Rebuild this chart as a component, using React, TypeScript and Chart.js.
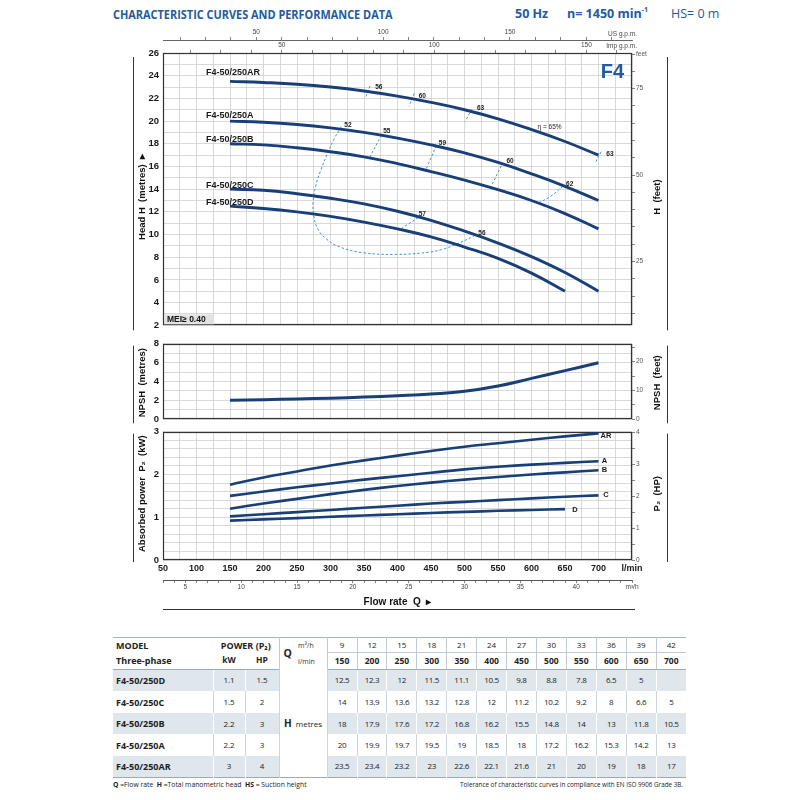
import React, { useEffect, useRef } from "react";
import { Chart, registerables } from "chart.js";

Chart.register(...registerables);

// ---------------- data ----------------
const flowLmin = [150, 200, 250, 300, 350, 400, 450, 500, 550, 600, 650, 700];
const flowM3h = [9, 12, 15, 18, 21, 24, 27, 30, 33, 36, 39, 42];
const models = ["F4-50/250D", "F4-50/250C", "F4-50/250B", "F4-50/250A", "F4-50/250AR"];
const powerKw = [1.1, 1.5, 2.2, 2.2, 3];
const powerHp = [1.5, 2, 3, 3, 4];

// tabulated head values (table)
const headD = [12.5, 12.3, 12, 11.5, 11.1, 10.5, 9.8, 8.8, 7.8, 6.5, 5];
const headC = [14, 13.9, 13.6, 13.2, 12.8, 12, 11.2, 10.2, 9.2, 8, 6.6, 5];
const headB = [18, 17.9, 17.6, 17.2, 16.8, 16.2, 15.5, 14.8, 14, 13, 11.8, 10.5];
const headA = [20, 19.9, 19.7, 19.5, 19, 18.5, 18, 17.2, 16.2, 15.3, 14.2, 13];
const headAR = [23.5, 23.4, 23.2, 23, 22.6, 22.1, 21.6, 21, 20, 19, 18, 17];

// head curves
const curveD = [12.5, 12.3, 12.0, 11.6, 11.1, 10.5, 9.8, 8.9, 7.9, 6.6, 5.0];
const curveC = [14, 13.9, 13.6, 13.2, 12.7, 12.05, 11.25, 10.3, 9.25, 8.05, 6.65, 5.0];
const curveB = [18, 17.9, 17.65, 17.3, 16.85, 16.25, 15.55, 14.8, 13.95, 13.0, 11.85, 10.5];
const curveA = [20, 19.9, 19.7, 19.4, 19.0, 18.5, 17.9, 17.2, 16.35, 15.35, 14.25, 13.0];
const curveAR = [23.5, 23.4, 23.25, 23.0, 22.65, 22.2, 21.65, 21.0, 20.2, 19.25, 18.2, 17.0];

const npshM = [2.02, 2.08, 2.15, 2.24, 2.35, 2.5, 2.68, 2.96, 3.52, 4.33, 5.15, 5.98];

const p2AR = [1.76, 1.93, 2.07, 2.21, 2.33, 2.44, 2.55, 2.65, 2.73, 2.81, 2.89, 2.96];
const p2A = [1.5, 1.6, 1.7, 1.79, 1.88, 1.96, 2.04, 2.12, 2.18, 2.23, 2.27, 2.31];
const p2B = [1.2, 1.32, 1.43, 1.54, 1.64, 1.73, 1.81, 1.88, 1.94, 2.0, 2.05, 2.1];
const p2C = [1.02, 1.07, 1.12, 1.17, 1.22, 1.27, 1.32, 1.36, 1.4, 1.44, 1.48, 1.51];
const p2D = [0.92, 0.95, 0.98, 1.01, 1.04, 1.07, 1.1, 1.125, 1.15, 1.17, 1.19];

// iso-efficiency lines  [Q l/min, H m]
type Pt = [number, number];
const eff52: Pt[] = [[316, 19.5], [306, 18.5], [296, 17.2], [286, 15.75], [278, 14.3], [274, 12.85], [275, 11.65], [281, 10.5], [294, 9.6], [314, 8.9], [348, 8.4], [398, 8.25], [448, 8.45], [470, 8.75], [488, 9.15], [514, 9.85]];
const eff55: Pt[] = [[376, 18.75], [357, 16.65]];
const eff59: Pt[] = [[458, 17.85], [442, 15.65]];
const eff60: Pt[] = [[555, 16.05], [539, 14.15]];
const eff62: Pt[] = [[647, 14.25], [628, 13.35], [609, 12.75]];
const eff57: Pt[] = [[431, 11.5], [403, 10.42]];
const effAR56: Pt[] = [[359, 23.1], [352, 22.0]];
const effAR60: Pt[] = [[425, 22.45], [417, 21.3]];
const effAR63: Pt[] = [[511, 21.05], [501, 19.95]];
const effAR63b: Pt[] = [[704, 17.3], [695, 16.3]];

// text annotations [text, Q, value]
const modelLabels: [string, number, number][] = [
  ["F4-50/250AR", 114, 24.25], ["F4-50/250A", 114, 20.5], ["F4-50/250B", 114, 18.4],
  ["F4-50/250C", 114, 14.35], ["F4-50/250D", 114, 12.8],
];
const effLabels: [string, number, number][] = [
  ["56", 372, 22.95], ["60", 437, 22.2], ["63", 524, 21.1], ["52", 326, 19.65], ["55", 384, 19.1],
  ["59", 467, 18.05], ["60", 568, 16.5], ["62", 657, 14.45], ["57", 437, 11.8], ["56", 526, 10.1], ["63", 717, 17.1],
];
const etaLabel: [string, number, number] = ["η = 65%", 609, 19.45];
const powerLabels: [string, number, number][] = [
  ["AR", 703, 2.9], ["A", 705, 2.32], ["B", 705, 2.1], ["C", 707, 1.52], ["D", 661, 1.17],
];

// secondary axis ticks
const headFeetTicks = [10, 15, 20, 25, 30, 35, 40, 45, 50, 55, 60, 65, 70, 75, 80, 85];
const npshFeetTicks = [0, 5, 10, 15, 20, 25];
const hpTicks = [0, 0.5, 1, 1.5, 2, 2.5, 3, 3.5, 4];
const usGpmTicks = [20, 30, 40, 50, 60, 70, 80, 90, 100, 110, 120, 130, 140, 150, 160, 170, 180, 190];
const impGpmTicks = [20, 30, 40, 50, 60, 70, 80, 90, 100, 110, 120, 130, 140, 150, 160];
const gpmLabels = [50, 100, 150];

const L_PER_US_GAL = 3.78541;
const L_PER_IMP_GAL = 4.54609;
const M_PER_FT = 0.3048;
const KW_PER_HP = 0.7457;

// ---------------- styles ----------------
const FONT = '"Liberation Sans", Arial, sans-serif';
const FONT_N = '"Liberation Sans Narrow", "Liberation Sans", Arial, sans-serif';
const NAVY = "#183f78";
const EFF = "#3f94d2";
const GRID = "#cfcfcf";
const BLUE = "#245b9e";

const toXY = (xs: number[], ys: number[]) => ys.map((y, i) => ({ x: xs[i], y }));
const ptsXY = (p: Pt[]) => p.map(([x, y]) => ({ x, y }));

const curve = (ys: number[], w = 2.9) => ({
  data: toXY(flowLmin, ys),
  borderColor: NAVY,
  borderWidth: w,
  pointRadius: 0,
  tension: 0.45,
  fill: false,
  xAxisID: "x",
  yAxisID: "y",
});
const effLine = (p: Pt[]) => ({
  data: ptsXY(p),
  borderColor: EFF,
  borderWidth: 1,
  borderDash: [2.5, 2],
  pointRadius: 0,
  tension: 0.4,
  fill: false,
  xAxisID: "x",
  yAxisID: "y",
});

const xMain = (labels: boolean) => ({
  type: "linear",
  position: "bottom",
  weight: 0,
  min: 50,
  max: 750,
  ticks: labels
    ? {
        stepSize: 25,
        autoSkip: false,
        maxRotation: 0,
        minRotation: 0,
        padding: 3,
        color: "#1a1a1a",
        font: { family: FONT_N, size: 9, weight: "bold" },
        callback: (v: number) => (v === 750 ? "l/min" : v % 50 === 0 ? String(v) : ""),
      }
    : { stepSize: 25, display: false },
  grid: { color: GRID, lineWidth: 0.8, drawTicks: false },
  border: { display: false },
  afterFit: (s: any) => {
    s.height = labels ? 20 : 0;
  },
});

const yLeft = (min: number, max: number, step: number, cb: (v: number) => string) => ({
  type: "linear",
  position: "left",
  min,
  max,
  ticks: {
    stepSize: step,
    autoSkip: false,
    padding: 4,
    color: "#1a1a1a",
    font: { family: FONT_N, size: 9.5, weight: "bold" },
    callback: cb,
  },
  grid: { color: GRID, lineWidth: 0.8, drawTicks: false },
  border: { display: false },
  afterFit: (s: any) => {
    s.width = 40;
  },
});

const yRight = (min: number, max: number, tks: number[], cb: (v: number) => string) => ({
  type: "linear",
  axis: "y",
  position: "right",
  min,
  max,
  afterBuildTicks: (s: any) => {
    s.ticks = tks.map((v) => ({ value: v }));
  },
  ticks: { autoSkip: false, padding: 1, color: "#555", font: { family: FONT, size: 6.5 }, callback: cb },
  grid: { drawOnChartArea: false, drawTicks: true, tickLength: 3, color: "#666", lineWidth: 0.8 },
  border: { display: false },
  afterFit: (s: any) => {
    s.width = 26;
  },
});

const topAxis = (weight: number, min: number, max: number, tks: number[], h: number, line: boolean) => ({
  type: "linear",
  axis: "x",
  position: "top",
  weight,
  min,
  max,
  afterBuildTicks: (s: any) => {
    s.ticks = tks.map((v) => ({ value: v }));
  },
  ticks: {
    autoSkip: false,
    maxRotation: 0,
    minRotation: 0,
    padding: 1,
    color: "#444",
    font: { family: FONT, size: 6.5 },
    callback: (v: number) => (gpmLabels.includes(v) ? String(v) : ""),
  },
  grid: { drawOnChartArea: false, drawTicks: true, tickLength: 3, color: "#666", lineWidth: 0.8 },
  border: { display: line, color: "#666", width: 1 },
  afterFit: (s: any) => {
    s.height = h;
  },
});

function vText(ctx: CanvasRenderingContext2D, text: string, x: number, y: number) {
  ctx.save();
  ctx.translate(x, y);
  ctx.rotate(-Math.PI / 2);
  ctx.font = `bold 9.5px ${FONT}`;
  ctx.fillStyle = "#111";
  ctx.textAlign = "center";
  ctx.textBaseline = "middle";
  ctx.fillText(text, 0, 0);
  ctx.restore();
}
function line(ctx: CanvasRenderingContext2D, x0: number, y0: number, x1: number, y1: number) {
  ctx.save();
  ctx.strokeStyle = "#333";
  ctx.lineWidth = 1;
  ctx.beginPath();
  ctx.moveTo(x0, y0);
  ctx.lineTo(x1, y1);
  ctx.stroke();
  ctx.restore();
}

const framePlugin = {
  id: "frame",
  beforeDatasetsDraw(chart: any) {
    const { ctx, chartArea: a } = chart;
    ctx.save();
    ctx.strokeStyle = "#333";
    ctx.lineWidth = 1.2;
    const l = Math.round(a.left) + 0.5;
    const t = Math.round(a.top) + 0.5;
    const r = Math.round(a.right) - 0.5;
    const b = Math.round(a.bottom) - 0.5;
    ctx.strokeRect(l, t, r - l, b - t);
    ctx.restore();
  },
};

const sidePlugin = (left: string, right: string, dy: number, t0: number, b0: number) => ({
  id: "side",
  afterDraw(chart: any) {
    const { ctx, chartArea: a } = chart;
    vText(ctx, left, a.left - 21, a.top + dy);
    vText(ctx, right, a.right + 25, a.top + dy);
    const xl = Math.round(a.left - 30) + 0.5;
    const xr = Math.round(a.right + 35) + 0.5;
    line(ctx, xl, a.top + t0, xl, a.bottom + b0);
    line(ctx, xr, a.top + t0, xr, a.bottom + b0);
  },
});

const headLabelsPlugin = {
  id: "headLabels",
  afterDatasetsDraw(chart: any) {
    const { ctx, chartArea: a, scales } = chart;
    const X = (q: number) => scales.x.getPixelForValue(q);
    const Y = (h: number) => scales.y.getPixelForValue(h);
    ctx.save();
    ctx.textBaseline = "middle";
    ctx.fillStyle = "#1a1a1a";
    ctx.font = `bold 9px ${FONT_N}`;
    ctx.textAlign = "left";
    modelLabels.forEach(([t, q, h]) => ctx.fillText(t, X(q), Y(h)));
    ctx.font = `bold 6.5px ${FONT}`;
    ctx.textAlign = "center";
    effLabels.forEach(([t, q, h]) => ctx.fillText(t, X(q), Y(h)));
    ctx.font = `6.5px ${FONT}`;
    ctx.textAlign = "left";
    ctx.fillText(etaLabel[0], X(etaLabel[1]), Y(etaLabel[2]));
    ctx.font = `bold 20px ${FONT_N}`;
    ctx.fillStyle = BLUE;
    ctx.textAlign = "right";
    ctx.fillText("F4", a.right - 8, a.top + 19);
    ctx.fillStyle = "#e2e2e2";
    ctx.fillRect(a.left + 1, a.bottom - 11, 50, 10);
    ctx.fillStyle = "#111";
    ctx.font = `bold 8.5px ${FONT}`;
    ctx.textAlign = "left";
    ctx.fillText("MEI≥ 0.40", a.left + 4, a.bottom - 5.5);
    ctx.font = `6.5px ${FONT}`;
    ctx.fillStyle = "#444";
    ctx.textAlign = "right";
    ctx.fillText("US g.p.m.", a.right + 5, a.top - 19);
    ctx.fillText("Imp g.p.m.", a.right + 5, a.top - 7);
    ctx.restore();
  },
};

const powerLabelsPlugin = {
  id: "powerLabels",
  afterDatasetsDraw(chart: any) {
    const { ctx, chartArea: a, scales } = chart;
    ctx.save();
    ctx.textBaseline = "middle";
    ctx.textAlign = "left";
    ctx.fillStyle = "#1a1a1a";
    ctx.font = `bold 7.5px ${FONT}`;
    powerLabels.forEach(([t, q, p]) => ctx.fillText(t, scales.x.getPixelForValue(q), scales.y.getPixelForValue(p)));
    line(ctx, a.left, a.bottom + 49.5, a.right + 3, a.bottom + 49.5);
    ctx.restore();
  },
};

const baseOptions = (padding: any) => ({
  responsive: false,
  maintainAspectRatio: false,
  animation: false,
  layout: { padding },
  plugins: { legend: { display: false }, tooltip: { enabled: false } },
});

const headConfig = () => ({
  type: "line",
  data: {
    datasets: [
      curve(curveAR), curve(curveA), curve(curveB), curve(curveC), curve(curveD),
      effLine(eff52), effLine(eff55), effLine(eff59), effLine(eff60), effLine(eff62), effLine(eff57),
      effLine(effAR56), effLine(effAR60), effLine(effAR63), effLine(effAR63b),
    ],
  },
  options: {
    ...baseOptions({ left: 123, right: 142, top: 0, bottom: 8 }),
    scales: {
      x: xMain(false),
      y: yLeft(2, 26, 1, (v) => (v % 2 === 0 ? String(v) : "")),
      yft: yRight(2 / M_PER_FT, 26 / M_PER_FT, headFeetTicks, (v) =>
        v === 85 ? "feet" : [25, 50, 75].includes(v) ? String(v) : ""
      ),
      imp: topAxis(0, 50 / L_PER_IMP_GAL, 750 / L_PER_IMP_GAL, impGpmTicks, 13, false),
      us: topAxis(1, 50 / L_PER_US_GAL, 750 / L_PER_US_GAL, usGpmTicks, 18, true),
    },
  },
  plugins: [framePlugin, headLabelsPlugin, sidePlugin("Head H  (metres)  ▸", "H  (feet)", 144, 4, 5)],
});

const npshConfig = () => ({
  type: "line",
  data: { datasets: [curve(npshM, 3)] },
  options: {
    ...baseOptions({ left: 123, right: 142, top: 8, bottom: 8 }),
    scales: {
      x: xMain(false),
      y: yLeft(0, 8, 1, (v) => (v % 2 === 0 ? String(v) : "")),
      yft: yRight(0, 8 / M_PER_FT, npshFeetTicks, (v) => (v % 10 === 0 ? String(v) : "")),
    },
  },
  plugins: [framePlugin, sidePlugin("NPSH  (metres)", "NPSH  (feet)", 39, 2, 4)],
});

const powerConfig = () => ({
  type: "line",
  data: { datasets: [curve(p2AR, 2.6), curve(p2A, 2.6), curve(p2B, 2.6), curve(p2C, 2.6), curve(p2D, 2.6)] },
  options: {
    ...baseOptions({ left: 123, right: 142, top: 8, bottom: 6 }),
    scales: {
      x: xMain(true),
      m3h: {
        type: "linear",
        axis: "x",
        position: "bottom",
        weight: 1,
        min: 3,
        max: 45,
        ticks: {
          stepSize: 1,
          autoSkip: false,
          maxRotation: 0,
          minRotation: 0,
          padding: 0,
          color: "#444",
          font: { family: FONT, size: 6.5 },
          callback: (v: number) => (v === 45 ? "m³/h" : v % 5 === 0 ? String(v) : ""),
        },
        grid: { drawOnChartArea: false, drawTicks: true, tickLength: 3, color: "#666", lineWidth: 0.8 },
        border: { display: true, color: "#555", width: 1 },
        title: {
          display: true,
          text: "Flow rate  Q  ▸",
          color: "#111",
          font: { family: FONT, size: 10, weight: "bold" },
          padding: { top: 0, bottom: 4 },
        },
        afterFit: (s: any) => {
          s.height = 32;
        },
      },
      y: yLeft(0, 3, 0.2, (v) => (Number.isInteger(v) ? String(v) : "")),
      yhp: yRight(0, 3 / KW_PER_HP, hpTicks, (v) => (Number.isInteger(v) ? String(v) : "")),
    },
  },
  plugins: [framePlugin, powerLabelsPlugin, sidePlugin("Absorbed power  P₂  (kW)", "P₂  (HP)", 62, 2, 2)],
});

function ChartCanvas({ top, height, config }: { top: number; height: number; config: () => any }) {
  const ref = useRef<HTMLCanvasElement>(null);
  useEffect(() => {
    const c = new Chart(ref.current as HTMLCanvasElement, config());
    return () => c.destroy();
  }, []);
  return (
    <canvas
      ref={ref}
      width={800}
      height={height}
      style={{ position: "absolute", left: 0, top, width: 800, height }}
    />
  );
}

// ---------------- table ----------------
const GRAYROW = "#dfe6ec";
const HL = "1px solid #c3cbd2";
const headRows = [headD, headC, headB, headA, headAR];
const rowHeights = [22, 22, 21, 22, 21];

const cell: React.CSSProperties = {
  padding: 0,
  textAlign: "center",
  verticalAlign: "middle",
  whiteSpace: "nowrap",
  overflow: "hidden",
  lineHeight: 1,
};

function DataTable() {
  return (
    <table
      style={{
        position: "absolute",
        left: 113,
        top: 637,
        width: 573,
        borderCollapse: "collapse",
        tableLayout: "fixed",
        fontFamily: '"Open Sans", sans-serif',
        fontSize: 8,
        color: "#222",
        borderTop: "1px solid #a9b3bc",
        borderBottom: "1px solid #9ea9b3",
      }}
    >
      <colgroup>
        <col style={{ width: 100 }} />
        <col style={{ width: 32 }} />
        <col style={{ width: 34 }} />
        <col style={{ width: 48 }} />
        {flowLmin.map((q) => (
          <col key={q} style={{ width: 29.9 }} />
        ))}
      </colgroup>
      <tbody>
        <tr style={{ height: 15 }}>
          <td style={{ ...cell, textAlign: "left", paddingLeft: 3, fontWeight: 700, fontSize: 9 }}>MODEL</td>
          <td colSpan={2} style={{ ...cell, fontWeight: 700, fontSize: 9 }}>
            POWER (P₂)
          </td>
          <td rowSpan={2} style={{ ...cell, borderLeft: HL, borderRight: HL, textAlign: "left" }}>
            <div style={{ display: "flex", alignItems: "center", height: 31 }}>
              <b style={{ fontSize: 10.5, padding: "0 6px 0 4px" }}>Q</b>
              <div
                style={{
                  display: "flex",
                  flexDirection: "column",
                  justifyContent: "space-around",
                  height: 31,
                  fontSize: 7,
                  color: "#333",
                }}
              >
                <span>m³/h</span>
                <span>l/min</span>
              </div>
            </div>
          </td>
          {flowM3h.map((v, i) => (
            <td key={v} style={{ ...cell, borderLeft: i ? HL : undefined, borderBottom: HL }}>
              {v}
            </td>
          ))}
        </tr>
        <tr style={{ height: 16 }}>
          <td
            style={{
              ...cell,
              textAlign: "left",
              paddingLeft: 3,
              fontWeight: 700,
              fontSize: 9,
              borderBottom: "1px solid #9ea9b3",
            }}
          >
            Three-phase
          </td>
          <td style={{ ...cell, fontWeight: 700, fontSize: 8.5, borderBottom: "1px solid #9ea9b3" }}>kW</td>
          <td style={{ ...cell, fontWeight: 700, fontSize: 8.5, borderBottom: "1px solid #9ea9b3" }}>HP</td>
          {flowLmin.map((v, i) => (
            <td
              key={v}
              style={{
                ...cell,
                fontWeight: 700,
                fontSize: 8.5,
                borderLeft: i ? HL : undefined,
                borderBottom: "1px solid #9ea9b3",
              }}
            >
              {v}
            </td>
          ))}
        </tr>
        {models.map((m, r) => {
          const gray = r % 2 === 0;
          const bg = gray ? GRAYROW : "#fff";
          const div = gray ? "1px solid #ffffff" : "1px solid #cdd5dc";
          return (
            <tr key={m} style={{ height: rowHeights[r] }}>
              <td style={{ ...cell, background: bg, textAlign: "left", paddingLeft: 3, fontWeight: 700, fontSize: 9 }}>
                {m}
              </td>
              <td style={{ ...cell, background: bg, borderLeft: div }}>{powerKw[r]}</td>
              <td style={{ ...cell, background: bg, borderLeft: div }}>{powerHp[r]}</td>
              {r === 0 && (
                <td
                  rowSpan={5}
                  style={{ ...cell, background: "#fff", borderLeft: "1px solid #cdd5dc", borderRight: "1px solid #cdd5dc" }}
                >
                  <b style={{ fontSize: 10 }}>H</b>
                  <span style={{ marginLeft: 4 }}>metres</span>
                </td>
              )}
              {flowLmin.map((q, i) => (
                <td key={q} style={{ ...cell, background: bg, borderLeft: i ? div : undefined, letterSpacing: -0.3 }}>
                  {headRows[r][i] !== undefined ? headRows[r][i] : ""}
                </td>
              ))}
            </tr>
          );
        })}
      </tbody>
    </table>
  );
}

export default function App() {
  return (
    <div
      style={{
        position: "absolute",
        left: 0,
        top: 0,
        width: 800,
        height: 800,
        background: "#fff",
        overflow: "hidden",
        fontFamily: '"Open Sans", sans-serif',
      }}
    >
      <div
        style={{
          position: "absolute",
          left: 113,
          top: 5,
          lineHeight: "18px",
          fontWeight: 700,
          fontSize: 13,
          color: BLUE,
          whiteSpace: "nowrap",
          transform: "scaleX(0.84)",
          transformOrigin: "left center",
        }}
      >
        CHARACTERISTIC CURVES AND PERFORMANCE DATA
      </div>
      <div style={{ position: "absolute", left: 515, top: 5, lineHeight: "18px", fontWeight: 700, fontSize: 12.5, color: BLUE, whiteSpace: "nowrap" }}>
        50 Hz
      </div>
      <div style={{ position: "absolute", left: 567, top: 5, lineHeight: "18px", fontWeight: 700, fontSize: 12.5, color: BLUE, whiteSpace: "nowrap" }}>
        n= 1450 min<sup style={{ fontSize: 7, verticalAlign: "6px", lineHeight: 0 }}>-1</sup>
      </div>
      <div style={{ position: "absolute", left: 671, top: 5, lineHeight: "18px", fontSize: 12.5, color: BLUE, whiteSpace: "nowrap" }}>
        HS= 0 m
      </div>

      <ChartCanvas top={22} height={313} config={headConfig} />
      <ChartCanvas top={334} height={95} config={npshConfig} />
      <ChartCanvas top={422} height={196} config={powerConfig} />

      <DataTable />

      <div style={{ position: "absolute", left: 113, top: 780, fontSize: 6.8, lineHeight: "10px", color: "#222", whiteSpace: "nowrap" }}>
        <b>Q</b> =Flow rate&nbsp; <b>H</b> =Total manometric head&nbsp; <b>HS</b> = Suction height
      </div>
      <div style={{ position: "absolute", right: 117, top: 780, fontSize: 6.3, lineHeight: "10px", color: "#222", whiteSpace: "nowrap" }}>
        Tolerance of characteristic curves in compliance with EN ISO 9906 Grade 3B.
      </div>
    </div>
  );
}
